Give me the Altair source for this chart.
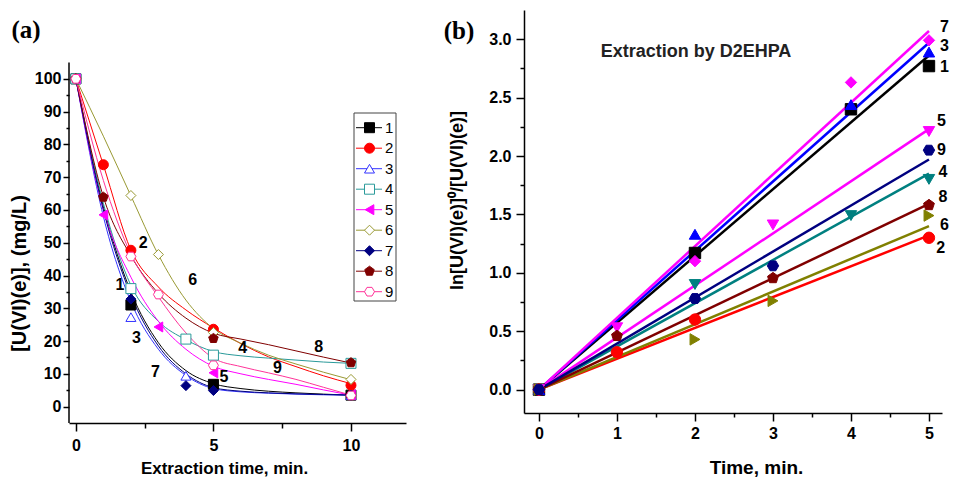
import altair as alt
import pandas as pd

SERIES = ["1", "2", "3", "4", "5", "6", "7", "8", "9"]

# ---------------- Panel (a): measured [U(VI)(e)], mg/L ----------------
A_T_1 = [0, 2, 5, 10]
A_C_1 = [100, 31.0, 6.8, 3.5]
A_T_2 = [0, 1, 2, 5, 10]
A_C_2 = [100, 73.8, 47.7, 23.6, 6.5]
A_T_3 = [0, 2, 4, 10]
A_C_3 = [100, 27.3, 9.4, 3.5]
A_T_4 = [0, 2, 4, 5, 10]
A_C_4 = [100, 36.0, 20.6, 15.7, 13.2]
A_T_5 = [0, 1, 3, 5, 10]
A_C_5 = [100, 58.5, 24.3, 10.3, 3.6]
A_T_6 = [0, 2, 3, 5, 10]
A_C_6 = [100, 64.4, 46.4, 22.6, 8.3]
A_T_7 = [0, 2, 4, 5, 10]
A_C_7 = [100, 32.8, 6.4, 4.9, 3.5]
A_T_8 = [0, 1, 5, 10]
A_C_8 = [100, 63.9, 20.8, 13.4]
A_T_9 = [0, 2, 3, 5, 10]
A_C_9 = [100, 45.8, 34.2, 12.6, 3.4]

# fitted decay curves at these times
CURVE_T = [0, 1, 2, 3, 4, 5, 6, 7, 8, 9, 10]
FIT_1 = [100, 61, 35, 19.5, 11, 7, 5.5, 4.7, 4.2, 3.8, 3.5]
FIT_2 = [100, 73.7, 47.8, 36.5, 29.5, 24, 19.2, 15.2, 12.2, 9.4, 7]
FIT_3 = [100, 58, 32, 17.5, 9.5, 5.5, 4.5, 4.1, 3.8, 3.6, 3.5]
FIT_4 = [100, 62, 37, 26, 20.4, 16.8, 15.5, 14.8, 14.2, 13.6, 13.2]
FIT_5 = [100, 60, 39.5, 26, 17.5, 12.3, 10, 8.3, 6.8, 5.1, 3.5]
FIT_6 = [100, 82.5, 64.3, 46.3, 32.5, 23.8, 19.3, 15.7, 13, 10.5, 8.2]
FIT_7 = [100, 60, 34, 18.5, 10, 5.8, 4.7, 4.2, 3.9, 3.7, 3.5]
FIT_8 = [100, 64, 46, 34.5, 27, 22.4, 20.6, 18.9, 17, 15.1, 13.3]
FIT_9 = [100, 69, 46.5, 33.5, 22.5, 14.8, 12.2, 10.3, 8.3, 5.9, 3.5]

# in-plot curve labels (time, concentration)
A_LAB_T = [1.6, 2.45, 2.2, 6.06, 5.38, 4.25, 2.89, 8.83, 7.33]
A_LAB_C = [37.0, 49.8, 21.0, 17.9, 9.1, 38.6, 10.6, 18.2, 11.8]

COLORS_A = ["#000000", "#ff0000", "#3333ff", "#2a9a9a", "#ff00ff",
            "#999933", "#000080", "#800000", "#ff3399"]
FILLS_A = ["#000000", "#ff0000", "#ffffff", "#ffffff", "#ff00ff",
           "#ffffff", "#000080", "#800000", "#ffffff"]
PENTAGON = "M0,-1L0.951,-0.309L0.588,0.809L-0.588,0.809L-0.951,-0.309Z"
HEXAGON = "M-0.5,-0.866L0.5,-0.866L1,0L0.5,0.866L-0.5,0.866L-1,0Z"
SHAPES_A = ["square", "circle", "triangle-up", "square", "triangle-left",
            "diamond", "diamond", PENTAGON, HEXAGON]

# ---------------- Panel (b): ln[U]0/[U] ----------------
B_T_1 = [0, 2, 4, 5]
B_V_1 = [0, 1.17, 2.40, 2.77]
B_T_2 = [0, 1, 2, 5]
B_V_2 = [0, 0.32, 0.60, 1.30]
B_T_3 = [0, 2, 4, 5]
B_V_3 = [0, 1.33, 2.44, 2.89]
B_T_4 = [0, 2, 4, 5]
B_V_4 = [0, 0.90, 1.49, 1.80]
B_T_5 = [0, 1, 3, 5]
B_V_5 = [0, 0.53, 1.41, 2.21]
B_T_6 = [0, 2, 3, 5]
B_V_6 = [0, 0.43, 0.76, 1.49]
B_T_7 = [0, 2, 4, 5]
B_V_7 = [0, 1.10, 2.63, 2.99]
B_T_8 = [0, 1, 3, 5]
B_V_8 = [0, 0.46, 0.955, 1.58]
B_T_9 = [0, 2, 3, 5]
B_V_9 = [0, 0.78, 1.06, 2.05]

# straight fitted lines through the origin: start/end time and end value
B_FIT_T = [0, 5]
B_FIT_END = [2.86, 1.32, 2.97, 1.85, 2.23, 1.40, 3.07, 1.59, 1.97]

B_LAB_T = [5.2, 5.15, 5.2, 5.18, 5.16, 5.2, 5.2, 5.18, 5.16]
B_LAB_V = [2.76, 1.21, 2.94, 1.86, 2.30, 1.41, 3.105, 1.65, 2.05]

COLORS_B = ["#000000", "#ff0000", "#0000ff", "#008080", "#ff00ff",
            "#808000", "#ff00ff", "#800000", "#000080"]
SHAPES_B = ["square", "circle", "triangle-up", "triangle-down", "triangle-down",
            "triangle-right", "diamond", PENTAGON, HEXAGON]

FONT = "Liberation Sans, Arial, sans-serif"
SERIF = "Liberation Serif, Times New Roman, serif"

# ---------------- data frames ----------------
A_T = [A_T_1, A_T_2, A_T_3, A_T_4, A_T_5, A_T_6, A_T_7, A_T_8, A_T_9]
A_C = [A_C_1, A_C_2, A_C_3, A_C_4, A_C_5, A_C_6, A_C_7, A_C_8, A_C_9]
FITS = [FIT_1, FIT_2, FIT_3, FIT_4, FIT_5, FIT_6, FIT_7, FIT_8, FIT_9]
B_T = [B_T_1, B_T_2, B_T_3, B_T_4, B_T_5, B_T_6, B_T_7, B_T_8, B_T_9]
B_V = [B_V_1, B_V_2, B_V_3, B_V_4, B_V_5, B_V_6, B_V_7, B_V_8, B_V_9]

a_pts = pd.concat([pd.DataFrame({"t": t, "v": c, "s": s})
                   for s, t, c in zip(SERIES, A_T, A_C)], ignore_index=True)
a_fit = pd.concat([pd.DataFrame({"t": CURVE_T, "v": f, "s": s})
                   for s, f in zip(SERIES, FITS)], ignore_index=True)
a_lab = pd.DataFrame({"t": A_LAB_T, "v": A_LAB_C, "s": SERIES})
b_pts = pd.concat([pd.DataFrame({"t": t, "v": v, "s": s})
                   for s, t, v in zip(SERIES, B_T, B_V)], ignore_index=True)
b_fit = pd.concat([pd.DataFrame({"t": B_FIT_T, "v": [0, e], "s": s})
                   for s, e in zip(SERIES, B_FIT_END)], ignore_index=True)
b_lab = pd.DataFrame({"t": B_LAB_T, "v": B_LAB_V, "s": SERIES})
leg = pd.DataFrame({"s": SERIES, "idx": list(range(len(SERIES)))})

# ---------------- panel (a) ----------------
W_A, H_A = 337, 413
XA = alt.Scale(domain=[-0.25, 12], nice=False, zero=False)
YA = alt.Scale(domain=[-5, 121], nice=False, zero=False)
ax_ax = alt.Axis(values=[0, 2.5, 5, 7.5, 10],
                 labelExpr="datum.value % 5 === 0 ? datum.label : ''",
                 tickSize={"condition": {"test": "datum.value % 5 === 0", "value": 8}, "value": 5},
                 labelPadding=6, labelFlush=False,
                 title="Extraction time, min.", titleX=155, titleY=45,
                 titleBaseline="middle", titleFont=FONT, titleFontSize=17)
ax_ay = alt.Axis(values=list(range(0, 101, 5)),
                 labelExpr="datum.value % 10 === 0 ? datum.label : ''",
                 tickSize={"condition": {"test": "datum.value % 10 === 0", "value": 6}, "value": 3},
                 labelPadding=2, domain=False,
                 title="[U(VI)(e)], (mg/L)", titleX=-50, titleY=263,
                 titleBaseline="middle", titleFont=FONT, titleFontSize=20)
xa = alt.X("t:Q", scale=XA, axis=ax_ax)
ya = alt.Y("v:Q", scale=YA, axis=ax_ay)
stroke_a = alt.Stroke("s:N", scale=alt.Scale(domain=SERIES, range=COLORS_A), legend=None)
fill_a = alt.Fill("s:N", scale=alt.Scale(domain=SERIES, range=FILLS_A), legend=None)
shape_a = alt.Shape("s:N", scale=alt.Scale(domain=SERIES, range=SHAPES_A), legend=None)

a_curves = alt.Chart(a_fit).mark_line(strokeWidth=1, interpolate="monotone").encode(
    x=xa, y=ya, stroke=stroke_a)
a_points = alt.Chart(a_pts).mark_point(filled=True, size=100, strokeWidth=1, opacity=1).encode(
    x=xa, y=ya, stroke=stroke_a, fill=fill_a, shape=shape_a)
a_labels = alt.Chart(a_lab).mark_text(font=FONT, fontWeight="bold", fontSize=16,
                                      color="black").encode(x=xa, y=ya, text="s:N")
a_axisline = alt.Chart(pd.DataFrame({"v": [-5], "v2": [105]})).mark_rule(
    color="black", strokeWidth=1.5).encode(x=alt.value(0), y=ya, y2="v2:Q")
a_tag = alt.Chart(pd.DataFrame({"s": ["(a)"]})).mark_text(
    font=SERIF, fontSize=25, fontWeight="bold", align="center", baseline="middle",
    color="black").encode(x=alt.value(-43), y=alt.value(20), text="s:N")
main_a = alt.layer(a_curves, a_points, a_labels, a_axisline, a_tag)

ly = alt.Y("idx:Q", scale=alt.Scale(domain=[0, 8], range=[117.7, 281.7], nice=False, zero=False),
           axis=None)
leg_box = alt.Chart(pd.DataFrame({"k": [0]})).mark_rect(
    fill="white", stroke="#444444", strokeWidth=1).encode(
    x=alt.value(285), x2=alt.value(327), y=alt.value(103), y2=alt.value(291))
leg_rules = alt.Chart(leg).mark_rule(strokeWidth=1).encode(
    x=alt.value(287), x2=alt.value(313), y=ly, stroke=stroke_a)
leg_pts = alt.Chart(leg).mark_point(filled=True, size=100, strokeWidth=1, opacity=1).encode(
    x=alt.value(300.5), y=ly, stroke=stroke_a, fill=fill_a, shape=shape_a)
leg_txt = alt.Chart(leg).mark_text(align="left", baseline="middle", font=FONT,
                                   fontSize=15, color="black").encode(
    x=alt.value(316), y=ly, text="s:N")
legend_a = alt.layer(leg_box, leg_rules, leg_pts, leg_txt)

panel_a = alt.layer(main_a, legend_a).resolve_scale(y="independent").properties(
    width=W_A, height=H_A)

# ---------------- panel (b) ----------------
W_B, H_B = 418, 403
XB = alt.Scale(domain=[-0.192, 5.167], nice=False, zero=False)
YB = alt.Scale(domain=[-0.2, 3.25], nice=False, zero=False)
ax_bx = alt.Axis(values=[i * 0.5 for i in range(11)],
                 labelExpr="datum.value % 1 === 0 ? format(datum.value, 'd') : ''",
                 tickSize={"condition": {"test": "datum.value % 1 === 0", "value": 8}, "value": 4},
                 labelPadding=4, labelFlush=False,
                 title="Time, min.", titleX=232, titleY=54,
                 titleBaseline="middle", titleFont=FONT, titleFontSize=19)
ax_by = alt.Axis(values=[i * 0.25 for i in range(13)],
                 labelExpr="datum.value % 0.5 === 0 ? format(datum.value, '.1f') : ''",
                 tickSize={"condition": {"test": "datum.value % 0.5 === 0", "value": 8}, "value": 4},
                 labelPadding=5,
                 title="ln[U(VI)(e)]⁰/[U(VI)(e)]", titleX=-67, titleY=190,
                 titleBaseline="middle", titleFont=FONT, titleFontSize=18)
xb = alt.X("t:Q", scale=XB, axis=ax_bx)
yb = alt.Y("v:Q", scale=YB, axis=ax_by)
stroke_b = alt.Stroke("s:N", scale=alt.Scale(domain=SERIES, range=COLORS_B), legend=None)
shape_b = alt.Shape("s:N", scale=alt.Scale(domain=SERIES, range=SHAPES_B), legend=None)
fill_b = alt.Fill("s:N", scale=alt.Scale(domain=SERIES, range=COLORS_B), legend=None)

b_lines = alt.Chart(b_fit).mark_line(strokeWidth=2.5).encode(x=xb, y=yb, stroke=stroke_b)
b_points = alt.Chart(b_pts).mark_point(filled=True, size=130, strokeWidth=1, opacity=1).encode(
    x=xb, y=yb, stroke=stroke_b, fill=fill_b, shape=shape_b)
b_labels = alt.Chart(b_lab).mark_text(font=FONT, fontWeight="bold", fontSize=16,
                                      color="black").encode(x=xb, y=yb, text="s:N")
b_note = alt.Chart(pd.DataFrame({"s": ["Extraction by D2EHPA"]})).mark_text(
    font=FONT, fontSize=18, fontWeight="bold", align="center", baseline="middle",
    color="#222222").encode(x=alt.value(172), y=alt.value(42), text="s:N")
b_tag = alt.Chart(pd.DataFrame({"s": ["(b)"]})).mark_text(
    font=SERIF, fontSize=25, fontWeight="bold", align="center", baseline="middle",
    color="black").encode(x=alt.value(-65), y=alt.value(21), text="s:N")

panel_b = alt.layer(b_lines, b_points, b_labels, b_note, b_tag).properties(
    width=W_B, height=H_B)

chart = alt.hconcat(panel_a, panel_b, spacing=37).resolve_scale(
    stroke="independent", fill="independent", shape="independent"
).properties(
    padding={"left": 1, "top": 2, "right": 0, "bottom": 0}
).configure_view(stroke=None).configure_axis(
    grid=False, domainColor="black", domainWidth=1.5, tickColor="black", tickWidth=1.5,
    labelFont=FONT, labelFontSize=16, labelFontWeight="bold", labelColor="black",
    titleFontWeight="bold", titleColor="black"
)

chart.save("out.html", embed_options={"renderer": "svg", "actions": False})
